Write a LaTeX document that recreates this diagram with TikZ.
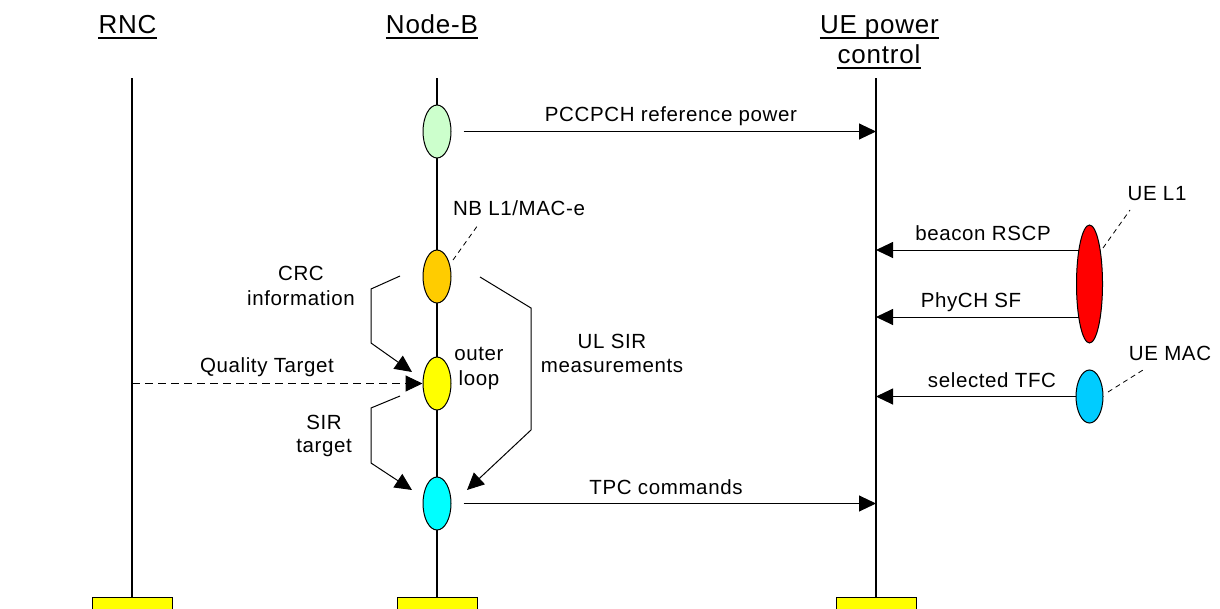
\documentclass[tikz,border=0pt]{standalone}
\usepackage{fontspec}
\setmainfont{Liberation Sans}[LetterSpace=3]
\usetikzlibrary{arrows.meta,calc,shapes.geometric}
\definecolor{cgreen}{HTML}{CCFFCC}
\definecolor{corange}{HTML}{FFCC00}
\definecolor{cyellow}{HTML}{FFFF00}
\definecolor{ccyan}{HTML}{00FFFF}
\definecolor{cred}{HTML}{FF0000}
\definecolor{cblue}{HTML}{00CCFF}
\begin{document}
\begin{tikzpicture}[x=1pt,y=-1pt,
  lifeline/.style={line width=1.3pt},
  msg/.style={line width=1pt,-{Triangle[length=17pt,width=16pt]}},
  dmsg/.style={msg,dash pattern=on 8pt off 5pt},
  leader/.style={line width=0.8pt,dash pattern=on 5pt off 4pt},
  bubble/.style={ellipse,draw=black,line width=1pt,inner sep=0pt,minimum width=28pt,minimum height=53pt},
  endbox/.style={draw=black,line width=1pt,fill=cyellow,minimum width=80pt,minimum height=40pt,inner sep=0pt},
  head/.style={inner sep=0pt,anchor=base,font=\fontsize{26}{31}\selectfont},
  lbl/.style={inner sep=0pt,anchor=base,font=\fontsize{20.5}{24}\selectfont},
  uline/.style={line width=1.8pt}
]
\useasboundingbox (0,0) rectangle (1220,608);

% headers
\node[head] (hrnc) at (127.5,33) {RNC};
\node[head] (hnb) at (432,33) {Node-B};
\node[head] (hue1) at (879.5,33) {UE power};
\node[head] (hue2) at (879,63) {control};
\foreach \n in {hrnc,hnb,hue1,hue2}
  \draw[uline] ($(\n.base west)+(0,5)$) -- ($(\n.base east)+(0,5)$);

% lifeline ends
\coordinate (rnctop) at (132,78);
\coordinate (nbtop) at (437,78);
\coordinate (uetop) at (876,78);
\node[endbox] (rncbox) at (132,617) {};
\node[endbox] (nbbox) at (437,617) {};
\node[endbox] (uebox) at (876,617) {};
\draw[lifeline] (rnctop) -- (rncbox.north);
\draw[lifeline] (nbtop) -- (nbbox.north);
\draw[lifeline] (uetop) -- (uebox.north);

% Node-B bubbles
\node[bubble,fill=cgreen] (gr) at (437,131.5) {};
\node[bubble,fill=corange] (orb) at (437,276.5) {};
\node[bubble,fill=cyellow] (ol) at (437,383.5) {};
\node[bubble,fill=ccyan] (tpc) at (437,503.5) {};

% UE bubbles
\node[bubble,fill=cred,minimum width=26pt,minimum height=118pt] (uel1) at (1089.5,284) {};
\node[bubble,fill=cblue,minimum width=27pt] (uemac) at (1089.5,396.5) {};

% messages to UE power control
\draw[msg,shorten <=12pt] (gr.east) -- (gr.east -| uetop);
\node[lbl] (tpcch) at (671,121) {PCCPCH reference power};
\draw[msg,shorten <=12pt] (tpc.east) -- (tpc.east -| uetop);
\node[lbl] (ttpc) at (666,494) {TPC commands};

\coordinate (b1) at (1078.5,250);
\coordinate (b2) at (1078.5,317);
\draw[msg] (b1) -- (b1 -| uetop);
\node[lbl] (tbeacon) at (983,240) {beacon RSCP};
\draw[msg] (b2) -- (b2 -| uetop);
\node[lbl] (tphy) at (971,307) {PhyCH SF};
\draw[msg] (uemac.west) -- (uemac.west -| uetop);
\node[lbl] (ttfc) at (992,387) {selected TFC};

% quality target
\draw[dmsg] (ol.west -| rnctop) -- (ol.west);
\node[lbl] (tqt) at (267,372) {Quality Target};

% brackets
\coordinate (c0) at (400,276);
\coordinate (c1) at (371,289);
\coordinate (c2) at (371,343);
\coordinate (c3) at (412,372);
\draw[msg] (c0) -- (c1) -- (c2) -- (c3);
\node[lbl] (tcrc1) at (301,280) {CRC};
\node[lbl] (tcrc2) at (301,305) {information};

\coordinate (s0) at (400,396);
\coordinate (s1) at (371,408);
\coordinate (s2) at (371,463);
\coordinate (s3) at (412,490);
\draw[msg] (s0) -- (s1) -- (s2) -- (s3);
\node[lbl] (tsir1) at (324,429) {SIR};
\node[lbl] (tsir2) at (324,452) {target};

\coordinate (u0) at (480,277);
\coordinate (u1) at (531,308);
\coordinate (u2) at (531,430);
\coordinate (u3) at (467,490);
\draw[msg] (u0) -- (u1) -- (u2) -- (u3);
\node[lbl] (tul1) at (612,348) {UL SIR};
\node[lbl] (tul2) at (612,372) {measurements};

\node[lbl] (touter) at (479,360) {outer};
\node[lbl] (tloop) at (479,385) {loop};

% callouts
\node[lbl] (tnb) at (519,215) {NB L1/MAC-e};
\coordinate (nbl0) at (453,260);
\coordinate (nbl1) at (478,225);
\draw[leader] (nbl0) -- (nbl1);
\node[lbl] (tuel1) at (1157,200) {UE L1};
\coordinate (ul0) at (1103,248);
\coordinate (ul1) at (1130,210);
\draw[leader] (ul0) -- (ul1);
\node[lbl] (tuemac) at (1170,360) {UE MAC};
\coordinate (um0) at (1108,392);
\coordinate (um1) at (1143,370);
\draw[leader] (um0) -- (um1);
\end{tikzpicture}
\end{document}
